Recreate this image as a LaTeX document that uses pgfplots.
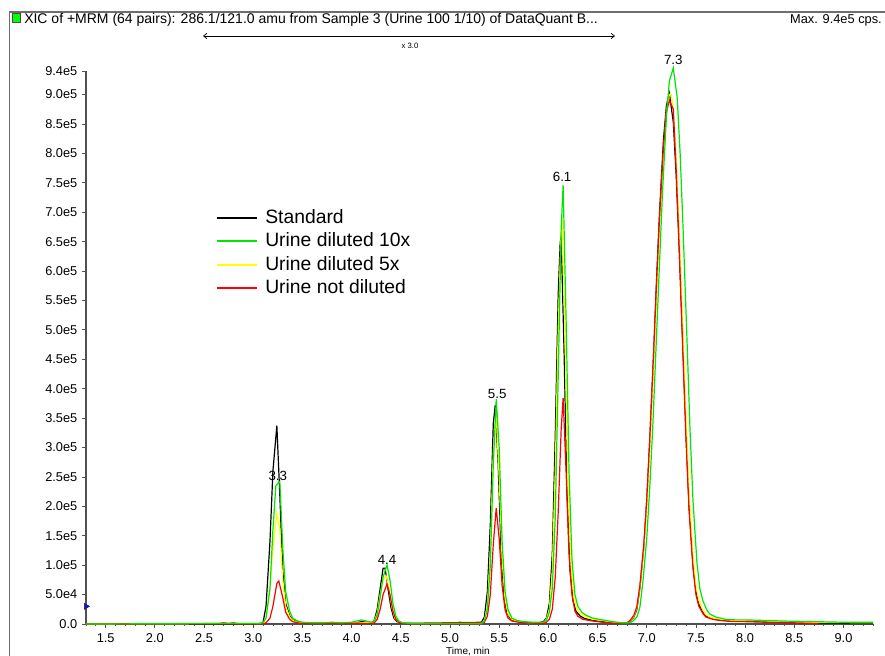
\documentclass[border=0pt]{standalone}
\usepackage{fontspec}
\setmainfont{Liberation Sans}
\usepackage{pgfplots}
\pgfplotsset{compat=1.18}
\usetikzlibrary{arrows.meta}

\definecolor{axgray}{RGB}{80,80,80}
\definecolor{frgray}{RGB}{110,110,110}
\definecolor{cgreen}{RGB}{0,230,0}
\definecolor{cyellow}{RGB}{255,255,0}
\definecolor{cred}{RGB}{255,0,0}
\definecolor{cblue}{RGB}{20,20,170}

% intensities in units of 1e5 cps
\pgfplotstableread{
t v
1.30 0
3.00 0
3.07 0.01
3.10 0.03
3.13 0.3
3.17 1.4
3.20 2.6
3.24 3.37
3.27 2.2
3.30 0.9
3.33 0.35
3.37 0.14
3.40 0.07
3.45 0.04
3.50 0.02
3.60 0.01
3.80 0.02
3.90 0.01
4.05 0.02
4.10 0.04
4.15 0.03
4.20 0.02
4.23 0.06
4.26 0.25
4.29 0.6
4.32 0.95
4.34 0.95
4.37 0.6
4.40 0.28
4.43 0.1
4.46 0.04
4.50 0.02
4.60 0.01
5.05 0.01
5.10 0.03
5.15 0.01
5.28 0.01
5.32 0.03
5.35 0.12
5.38 0.55
5.41 1.7
5.44 3.4
5.46 3.72
5.49 2.7
5.52 1.2
5.55 0.45
5.58 0.18
5.62 0.08
5.66 0.05
5.72 0.03
5.80 0.02
5.90 0.02
5.95 0.04
5.98 0.1
6.01 0.35
6.04 1.2
6.07 3.2
6.10 5.6
6.12 6.47
6.13 6.6
6.16 4.6
6.19 2.2
6.22 0.9
6.25 0.4
6.28 0.22
6.32 0.14
6.36 0.1
6.40 0.08
6.50 0.05
6.60 0.03
6.70 0.02
6.80 0.02
6.83 0.05
6.87 0.12
6.90 0.25
6.93 0.6
6.97 1.3
7.00 2.1
7.03 3.1
7.07 4.6
7.10 5.86
7.13 6.99
7.17 8.23
7.20 8.81
7.23 9.02
7.27 8.53
7.30 7.61
7.33 6.38
7.37 4.57
7.40 3.2
7.43 2.0
7.47 1.0
7.50 0.55
7.53 0.33
7.57 0.2
7.60 0.14
7.65 0.1
7.70 0.08
7.80 0.06
7.90 0.05
8.00 0.05
8.10 0.045
8.30 0.035
8.50 0.025
8.70 0.015
9.00 0.01
9.30 0.01
}\standard

\pgfplotstableread{
t v
1.30 0
3.07 0.01
3.10 0.02
3.13 0.1
3.17 0.6
3.20 1.6
3.23 2.35
3.27 2.42
3.30 1.3
3.33 0.55
3.37 0.22
3.40 0.1
3.45 0.05
3.50 0.03
3.60 0.02
3.70 0.02
3.80 0.03
3.90 0.02
4.00 0.03
4.05 0.05
4.10 0.07
4.15 0.05
4.20 0.03
4.23 0.05
4.26 0.15
4.29 0.45
4.32 0.8
4.36 1.0
4.39 0.75
4.42 0.35
4.45 0.13
4.48 0.05
4.52 0.02
4.60 0.01
5.32 0.01
5.35 0.05
5.38 0.25
5.41 1.0
5.44 2.7
5.47 3.82
5.50 3.0
5.53 1.4
5.56 0.55
5.59 0.24
5.63 0.1
5.68 0.06
5.75 0.04
5.85 0.03
5.95 0.03
5.98 0.06
6.01 0.2
6.04 0.6
6.07 1.8
6.10 4.2
6.13 6.7
6.15 7.46
6.18 5.2
6.21 2.6
6.24 1.1
6.27 0.5
6.30 0.3
6.34 0.2
6.38 0.15
6.45 0.1
6.55 0.07
6.65 0.04
6.75 0.02
6.83 0.02
6.86 0.05
6.90 0.12
6.93 0.28
6.96 0.7
7.00 1.45
7.03 2.3
7.06 3.3
7.10 4.92
7.13 6.14
7.16 7.33
7.20 8.62
7.23 9.23
7.27 9.45
7.31 8.94
7.34 7.98
7.37 6.69
7.41 4.79
7.44 3.3
7.47 2.1
7.51 1.05
7.54 0.6
7.57 0.4
7.61 0.24
7.64 0.17
7.70 0.12
7.80 0.08
7.90 0.07
8.00 0.07
8.20 0.06
8.40 0.05
8.70 0.04
9.00 0.03
9.30 0.03
}\tenx

\pgfplotstableread{
t v
1.30 0
3.07 0.01
3.10 0.02
3.13 0.1
3.17 0.6
3.20 1.3
3.24 1.88
3.27 1.6
3.30 0.75
3.33 0.3
3.37 0.12
3.40 0.06
3.45 0.03
3.50 0.02
3.60 0.01
4.15 0.02
4.20 0.02
4.23 0.05
4.26 0.18
4.29 0.5
4.32 0.75
4.35 0.82
4.38 0.6
4.41 0.28
4.44 0.1
4.47 0.04
4.52 0.02
4.60 0.01
5.05 0.01
5.10 0.03
5.15 0.01
5.32 0.01
5.35 0.06
5.38 0.3
5.41 1.2
5.44 2.9
5.47 3.55
5.50 2.5
5.53 1.1
5.56 0.42
5.59 0.17
5.63 0.08
5.70 0.04
5.80 0.02
5.90 0.02
5.95 0.02
5.98 0.08
6.01 0.25
6.04 0.9
6.07 2.6
6.10 5.0
6.13 6.7
6.14 6.9
6.17 4.9
6.20 2.3
6.23 1.0
6.26 0.45
6.29 0.25
6.33 0.17
6.38 0.12
6.45 0.08
6.55 0.06
6.65 0.03
6.75 0.02
6.80 0.02
6.83 0.06
6.87 0.13
6.90 0.28
6.93 0.62
6.97 1.3
7.00 2.0
7.03 2.95
7.07 4.45
7.10 5.6
7.13 6.8
7.17 8.0
7.20 8.7
7.23 9.0
7.25 9.0
7.27 8.75
7.30 7.9
7.33 6.7
7.37 4.9
7.40 3.5
7.43 2.25
7.47 1.15
7.50 0.65
7.53 0.4
7.57 0.24
7.60 0.16
7.65 0.11
7.70 0.09
7.80 0.07
7.90 0.06
8.00 0.06
8.20 0.05
8.50 0.03
9.30 0.02
}\fivex

\pgfplotstableread{
t v
1.30 0
2.65 0.01
2.70 0.02
2.75 0.01
2.80 0.02
2.85 0.005
3.10 0.005
3.13 0.02
3.17 0.1
3.20 0.3
3.24 0.69
3.26 0.73
3.30 0.45
3.33 0.2
3.37 0.08
3.40 0.04
3.45 0.02
3.50 0.01
4.20 0.01
4.23 0.02
4.26 0.08
4.29 0.25
4.32 0.5
4.36 0.68
4.39 0.5
4.42 0.22
4.45 0.08
4.48 0.03
4.52 0.01
5.35 0.03
5.38 0.13
5.41 0.5
5.44 1.35
5.47 1.97
5.50 1.45
5.53 0.65
5.56 0.24
5.59 0.1
5.63 0.05
5.70 0.03
5.80 0.02
5.90 0.01
5.95 0.01
5.98 0.03
6.01 0.08
6.04 0.25
6.07 0.8
6.10 1.9
6.13 3.3
6.15 3.84
6.18 2.6
6.21 1.2
6.24 0.5
6.27 0.22
6.30 0.13
6.35 0.08
6.45 0.05
6.55 0.03
6.70 0.01
6.80 0.02
6.83 0.06
6.87 0.15
6.90 0.3
6.93 0.65
6.97 1.35
7.00 2.1
7.03 3.1
7.07 4.6
7.10 5.8
7.13 6.9
7.17 8.1
7.20 8.7
7.23 8.9
7.27 8.75
7.30 7.7
7.33 6.4
7.37 4.5
7.40 3.1
7.43 1.95
7.47 0.95
7.50 0.5
7.53 0.3
7.57 0.18
7.60 0.12
7.65 0.09
7.70 0.07
7.80 0.05
7.90 0.04
8.00 0.04
8.20 0.03
8.50 0.02
8.70 0.01
8.75 0
}\nodil

\begin{document}
\begin{tikzpicture}
\path[use as bounding box] (0pt,0pt) rectangle (663.75pt,492pt);
% outer frame and header
\draw[frgray, line width=1.1pt] (7.1pt,-5pt) -- (7.1pt,483pt) -- (670pt,483pt);
\filldraw[fill=green, draw=black!70, line width=0.4pt] (9pt,475.5pt) rectangle (15pt,482pt);
\node[anchor=base west, inner sep=0pt, font=\fontsize{10.5}{12}\selectfont] at (18pt,474.5pt)
  {XIC of +MRM (64 pairs): 286.1/121.0 amu from Sample 3 (Urine 100 1/10) of DataQuant B...};
\node[anchor=base east, inner sep=0pt, font=\fontsize{9.6}{11}\selectfont] at (661.5pt,474.5pt)
  {Max. 9.4e5 cps.};
\draw[black, line width=0.5pt, {Straight Barb[length=2.5pt,width=4pt]}-{Straight Barb[length=2.5pt,width=4pt]}]
  (152.25pt,465pt) -- (461.25pt,465pt);
\node[font=\fontsize{5.8}{6}\selectfont, inner sep=0pt] at (307.5pt,457.5pt) {x 3.0};
\node[font=\fontsize{7.5}{8}\selectfont, inner sep=0pt] at (351pt,3pt) {Time, min};

\begin{axis}[
    at={(64.5pt,24pt)}, anchor=south west,
    scale only axis,
    width=590.25pt, height=414.75pt,
    xmin=1.3, xmax=9.3, ymin=0, ymax=9.4,
    clip=false,
    axis lines*=left,
    axis line style={axgray, line width=1.1pt},
    tick align=outside,
    major tick length=3pt, minor tick length=1.6pt,
    every tick/.style={axgray, line width=0.6pt},
    xtick={1.5,2.0,2.5,3.0,3.5,4.0,4.5,5.0,5.5,6.0,6.5,7.0,7.5,8.0,8.5,9.0},
    xticklabels={1.5,2.0,2.5,3.0,3.5,4.0,4.5,5.0,5.5,6.0,6.5,7.0,7.5,8.0,8.5,9.0},
    minor xtick={1.3,1.4,1.6,1.7,1.8,1.9,2.1,2.2,2.3,2.4,2.6,2.7,2.8,2.9,3.1,3.2,3.3,3.4,3.6,3.7,3.8,3.9,4.1,4.2,4.3,4.4,4.6,4.7,4.8,4.9,5.1,5.2,5.3,5.4,5.6,5.7,5.8,5.9,6.1,6.2,6.3,6.4,6.6,6.7,6.8,6.9,7.1,7.2,7.3,7.4,7.6,7.7,7.8,7.9,8.1,8.2,8.3,8.4,8.6,8.7,8.8,8.9,9.1,9.2,9.3},
    ytick={0,0.5,1,1.5,2,2.5,3,3.5,4,4.5,5,5.5,6,6.5,7,7.5,8,8.5,9,9.4},
    yticklabels={0.0,5.0e4,1.0e5,1.5e5,2.0e5,2.5e5,3.0e5,3.5e5,4.0e5,4.5e5,5.0e5,5.5e5,6.0e5,6.5e5,7.0e5,7.5e5,8.0e5,8.5e5,9.0e5,9.4e5},
    minor y tick num=4,
    ticklabel style={font=\fontsize{9.6}{11}\selectfont, black},
    xticklabel style={yshift=-1pt},
    legend cell align=left,
    legend image code/.code={\draw[#1, line width=1.3pt] (0pt,0pt) -- (30pt,0pt); \path (36pt,0pt);},
    legend style={at={(rel axis cs:0.165,0.752)}, anchor=north west, draw=none, fill=none,
      inner sep=0pt, row sep=3.6pt, font=\fontsize{14.5}{16}\selectfont,
      nodes={inner sep=0pt, text height=11pt, text depth=3pt}},
]
\addlegendimage{black}
\addlegendentry{Standard}
\addlegendimage{cgreen}
\addlegendentry{Urine diluted 10x}
\addlegendimage{cyellow}
\addlegendentry{Urine diluted 5x}
\addlegendimage{cred}
\addlegendentry{Urine not diluted}

\addplot[black, line width=0.9pt, forget plot] table[x=t, y=v] {\standard};
\addplot[cyellow, line width=0.9pt, forget plot] table[x=t, y=v] {\fivex};
\addplot[cred, line width=0.9pt, forget plot] table[x=t, y=v] {\nodil};
\addplot[cgreen, line width=0.9pt, forget plot] table[x=t, y=v] {\tenx};
\addplot[only marks, mark=triangle*, mark size=2.6pt, cblue, mark options={rotate=-90}, forget plot]
  coordinates {(1.3,0.3)};

\begin{scope}[every node/.style={font=\fontsize{10}{12}\selectfont, inner sep=0pt}]
\node at (axis cs:3.25,2.52) {3.3};
\node at (axis cs:4.36,1.09) {4.4};
\node at (axis cs:5.48,3.91) {5.5};
\node at (axis cs:6.14,7.60) {6.1};
\node at (axis cs:7.27,9.59) {7.3};
\end{scope}
\end{axis}
\end{tikzpicture}
\end{document}
